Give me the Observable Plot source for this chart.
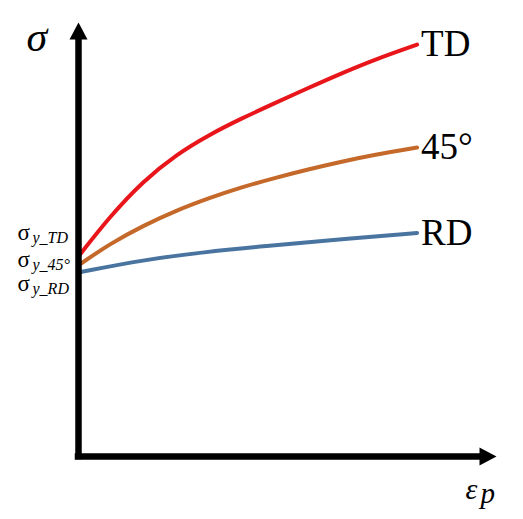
<!DOCTYPE html>
<html>
<head>
<meta charset="utf-8">
<script src="https://cdn.jsdelivr.net/npm/d3@7"></script>
<script src="https://cdn.jsdelivr.net/npm/@observablehq/plot@0.6"></script>
<style>
  html, body { margin: 0; padding: 0; background: #fff; }
  #chart svg { display: block; }
</style>
</head>
<body>
<div id="chart"></div>
<script>
// ---- data (schematic units: plastic strain 0..100, stress 0..100) ----
const series = ["TD", "45°", "RD"];
const seriesColors = ["#e8161b", "#c5692b", "#4a74a0"];

const tdStrain = [0.5, 7.5, 15.5, 23.4, 31.4, 38.8, 46.7, 54.7, 62.7, 70.7, 81.0];
const tdStress = [46.7, 55.3, 63.5, 69.6, 74.2, 77.8, 81.3, 84.8, 88.2, 91.4, 94.9];

const d45Strain = [0.5, 7.5, 15.5, 23.4, 31.4, 38.8, 46.7, 54.7, 62.7, 70.7, 81.0];
const d45Stress = [44.4, 49.0, 53.2, 56.7, 59.6, 62.0, 64.1, 66.1, 67.9, 69.5, 71.2];

const rdStrain = [0.5, 15.5, 30.0, 45.0, 60.0, 81.0];
const rdStress = [42.5, 45.3, 47.1, 48.5, 49.8, 51.5];

// yield-stress labels on the left (stress level of each label's baseline)
const yieldSymbols = ["σ", "σ", "σ"];
const yieldSubs = ["y_TD", "y_45°", "y_RD"];
const yieldLabelStress = [49.8, 43.6, 38.2];

const axisMax = 100;     // arrow tips
const axisShaftEnd = 96; // where the shaft meets the arrowhead

// ---- build tables ----
const curves = [
  ...tdStrain.map((x, i) => ({x, y: tdStress[i], s: series[0]})),
  ...d45Strain.map((x, i) => ({x, y: d45Stress[i], s: series[1]})),
  ...rdStrain.map((x, i) => ({x, y: rdStress[i], s: series[2]}))
];
const ends = [
  {x: tdStrain.at(-1), y: tdStress.at(-1), s: series[0]},
  {x: d45Strain.at(-1), y: d45Stress.at(-1), s: series[1]},
  {x: rdStrain.at(-1), y: rdStress.at(-1), s: series[2]}
];
const yieldLabels = yieldSymbols.map((t, i) => ({t, sub: yieldSubs[i], y: yieldLabelStress[i]}));

// arrowhead symbols (tip at the anchor point)
const arrowUp = {draw(ctx) { ctx.moveTo(0, 0); ctx.lineTo(9, 17); ctx.lineTo(-9, 17); ctx.closePath(); }};
const arrowRight = {draw(ctx) { ctx.moveTo(0, 0); ctx.lineTo(-17, 9); ctx.lineTo(-17, -9); ctx.closePath(); }};

const serif = "'Liberation Serif', 'Times New Roman', serif";

const chart = Plot.plot({
  width: 523,
  height: 519,
  marginLeft: 78,
  marginRight: 27,
  marginTop: 22,
  marginBottom: 63,
  x: {domain: [0, 100], axis: null},
  y: {domain: [0, 100], axis: null},
  color: {domain: series, range: seriesColors},
  style: {fontFamily: serif, background: "#fff", overflow: "visible"},
  marks: [
    // curves
    Plot.line(curves, {x: "x", y: "y", z: "s", stroke: "s", strokeWidth: 4, curve: "basis"}),
    // axes
    Plot.ruleX([0], {y1: 0, y2: axisShaftEnd, stroke: "black", strokeWidth: 6.5, strokeLinecap: "square"}),
    Plot.ruleY([0], {x1: 0, x2: axisShaftEnd, stroke: "black", strokeWidth: 6.5, strokeLinecap: "square"}),
    Plot.dot([0], {x: 0, y: axisMax, symbol: arrowUp, fill: "black", stroke: null}),
    Plot.dot([0], {x: axisMax, y: 0, symbol: arrowRight, fill: "black", stroke: null}),
    // series labels
    Plot.text(ends, {x: "x", y: "y", text: "s", textAnchor: "start", dx: 4, fontSize: 37, fill: "black", fontFamily: serif}),
    // axis titles
    Plot.text(["σ"], {frameAnchor: "top-left", dx: -52, dy: -1, fontSize: 42, fontStyle: "italic", fill: "black", lineAnchor: "top", fontFamily: serif}),
    Plot.text(["ε"], {frameAnchor: "bottom-right", dx: -31, dy: 42, fontSize: 30, fontStyle: "italic", fill: "black", lineAnchor: "bottom", textAnchor: "start", fontFamily: serif}),
    Plot.text(["p"], {frameAnchor: "bottom-right", dx: -16, dy: 46, fontSize: 29, fontStyle: "italic", fill: "black", lineAnchor: "bottom", textAnchor: "start", fontFamily: serif}),
    // yield stress labels
    Plot.text(yieldLabels, {y: "y", text: "t", frameAnchor: "left", dx: -61, fontSize: 23, fill: "black", lineAnchor: "bottom", textAnchor: "start", fontFamily: serif}),
    Plot.text(yieldLabels, {y: "y", text: "sub", frameAnchor: "left", dx: -46, dy: 3, fontSize: 16, fontStyle: "italic", fill: "black", lineAnchor: "bottom", textAnchor: "start", fontFamily: serif})
  ]
});
document.getElementById("chart").appendChild(chart);
</script>
</body>
</html>
